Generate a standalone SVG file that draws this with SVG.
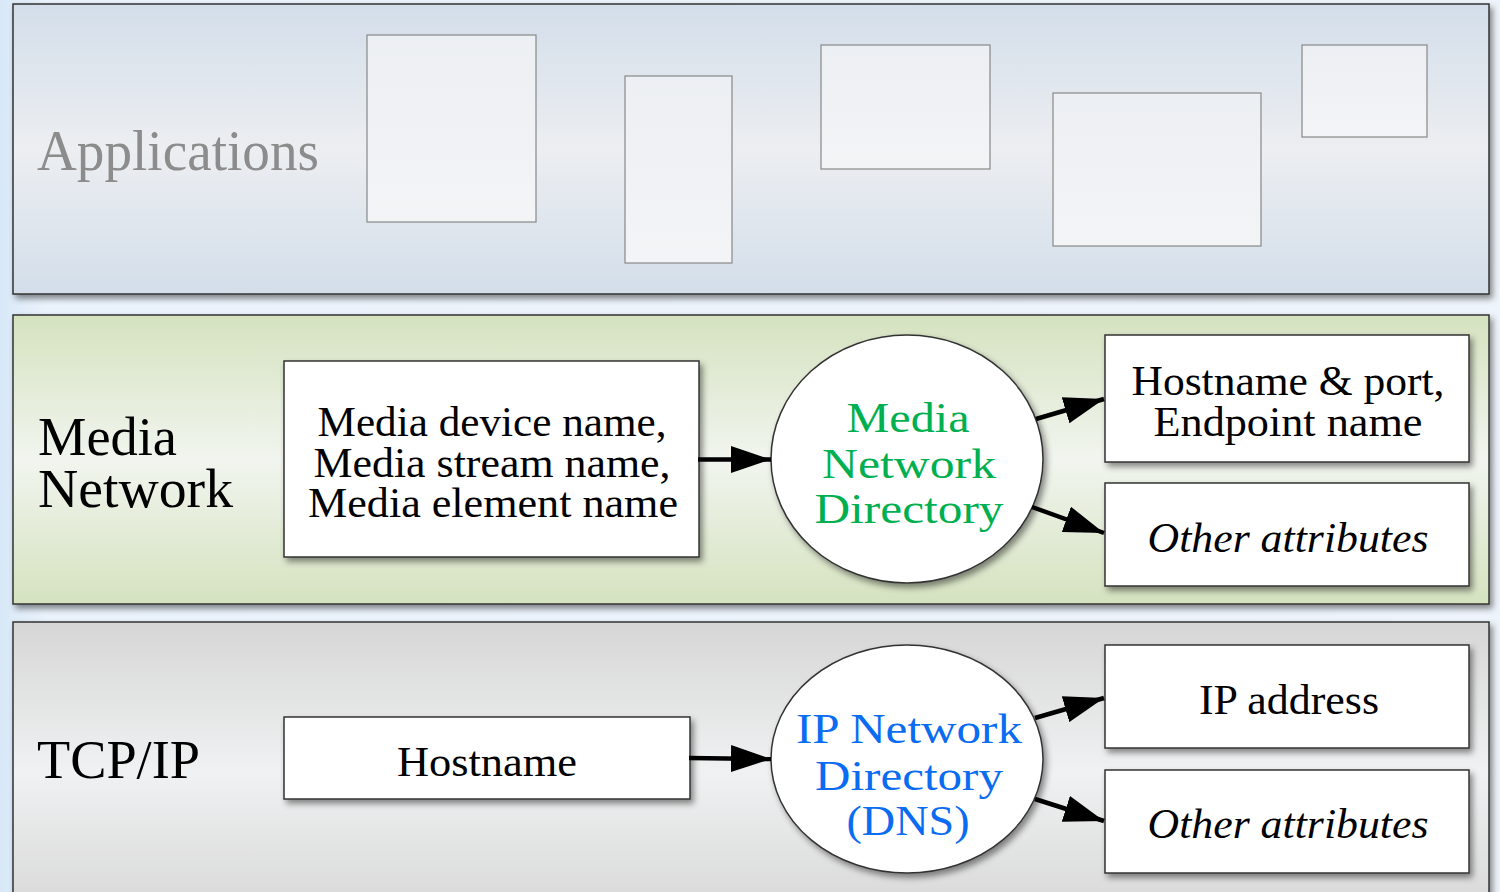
<svg xmlns="http://www.w3.org/2000/svg" width="1500" height="892" viewBox="0 0 1500 892">
<defs>
<linearGradient id="bgG" x1="0" y1="0" x2="1" y2="0">
<stop offset="0" stop-color="#d8e8f8"/><stop offset="0.03" stop-color="#eaf2fb"/><stop offset="1" stop-color="#eef4fb"/>
</linearGradient>
<linearGradient id="gBlue" x1="0" y1="0" x2="0" y2="1">
<stop offset="0" stop-color="#d3deea"/><stop offset="0.5" stop-color="#eceef1"/><stop offset="1" stop-color="#d3deea"/>
</linearGradient>
<linearGradient id="gGreen" x1="0" y1="0" x2="0" y2="1">
<stop offset="0" stop-color="#d5e2bf"/><stop offset="0.5" stop-color="#f1f5ef"/><stop offset="1" stop-color="#d5e2bf"/>
</linearGradient>
<linearGradient id="gGray" x1="0" y1="0" x2="0" y2="1">
<stop offset="0" stop-color="#d6d6d6"/><stop offset="0.5" stop-color="#f0f1f2"/><stop offset="1" stop-color="#d6d6d6"/>
</linearGradient>
<linearGradient id="gApp" x1="0" y1="0" x2="0" y2="1">
<stop offset="0" stop-color="#eceff3"/><stop offset="1" stop-color="#f3f4f6"/>
</linearGradient>
<filter id="sh" x="-5%" y="-5%" width="115%" height="120%">
<feDropShadow dx="3" dy="4" stdDeviation="3" flood-color="#000" flood-opacity="0.45"/>
</filter>
<marker id="ah" viewBox="0 0 10 10" refX="10" refY="5" markerWidth="8.9" markerHeight="6" markerUnits="strokeWidth" orient="auto" preserveAspectRatio="none">
<path d="M0,0 L10,5 L0,10 z" fill="#000"/>
</marker>
<style>
.panel{stroke:#333;stroke-width:1.5;filter:url(#sh)}
.app{fill:url(#gApp);stroke:#888;stroke-width:1.2}
.box{fill:#fff;stroke:#333;stroke-width:1.5;filter:url(#sh)}
.ell{fill:#fff;stroke:#333;stroke-width:1.5;filter:url(#sh)}
.t{font-family:"Liberation Serif","Times New Roman",serif;fill:#000}
.lbl{font-size:54px}
.bt{font-size:42px;text-anchor:middle}
.it{font-style:italic}
.conn{stroke:#000;stroke-width:4.5;fill:none;marker-end:url(#ah)}
</style>
</defs>
<rect x="0" y="0" width="1500" height="892" fill="url(#bgG)"/>

<g id="panel-applications">
<rect class="panel" x="13" y="4" width="1476" height="290" fill="url(#gBlue)"/>
<text class="t" x="37" y="170" font-size="58" style="fill:#8c8c8c" textLength="282" lengthAdjust="spacingAndGlyphs">Applications</text>
<rect class="app" x="367" y="35" width="169" height="187"/>
<rect class="app" x="625" y="76" width="107" height="187"/>
<rect class="app" x="821" y="45" width="169" height="124"/>
<rect class="app" x="1053" y="93" width="208" height="153"/>
<rect class="app" x="1302" y="45" width="125" height="92"/>
</g>

<g id="panel-media">
<rect class="panel" x="13" y="315" width="1476" height="289" fill="url(#gGreen)"/>
<text class="t lbl" x="38" y="455" textLength="139" lengthAdjust="spacingAndGlyphs">Media</text>
<text class="t lbl" x="38" y="507" textLength="195" lengthAdjust="spacingAndGlyphs">Network</text>
</g>

<g id="panel-tcpip">
<rect class="panel" x="13" y="622" width="1476" height="300" fill="url(#gGray)"/>
<text class="t lbl" x="37" y="778" textLength="163" lengthAdjust="spacingAndGlyphs">TCP/IP</text>
</g>

<g id="node-media-names">
<rect class="box" x="284" y="361" width="415" height="196"/>
<text class="t bt" x="492" y="436" textLength="349" lengthAdjust="spacingAndGlyphs">Media device name,</text>
<text class="t bt" x="492" y="477" textLength="357" lengthAdjust="spacingAndGlyphs">Media stream name,</text>
<text class="t bt" x="493" y="517" textLength="370" lengthAdjust="spacingAndGlyphs">Media element name</text>
</g>

<g id="node-mnd">
<ellipse class="ell" cx="907" cy="459" rx="136" ry="124"/>
<text class="t bt" x="908" y="432" style="fill:#00b050" textLength="123" lengthAdjust="spacingAndGlyphs">Media</text>
<text class="t bt" x="909" y="478" style="fill:#00b050" textLength="174" lengthAdjust="spacingAndGlyphs">Network</text>
<text class="t bt" x="909" y="523" style="fill:#00b050" textLength="189" lengthAdjust="spacingAndGlyphs">Directory</text>
</g>

<g id="node-hostport">
<rect class="box" x="1105" y="335" width="364" height="127"/>
<text class="t bt" x="1288" y="395" textLength="313" lengthAdjust="spacingAndGlyphs">Hostname &amp; port,</text>
<text class="t bt" x="1288" y="436" textLength="269" lengthAdjust="spacingAndGlyphs">Endpoint name</text>
</g>

<g id="node-media-other">
<rect class="box" x="1105" y="483" width="364" height="103"/>
<text class="t bt it" x="1288" y="552" textLength="281" lengthAdjust="spacingAndGlyphs">Other attributes</text>
</g>

<g id="node-hostname">
<rect class="box" x="284" y="717" width="406" height="82"/>
<text class="t bt" x="487" y="776" textLength="180" lengthAdjust="spacingAndGlyphs">Hostname</text>
</g>

<g id="node-dns">
<ellipse class="ell" cx="907" cy="759" rx="136" ry="114"/>
<text class="t bt" x="909" y="743" style="fill:#0a6cf0" textLength="226" lengthAdjust="spacingAndGlyphs">IP Network</text>
<text class="t bt" x="909" y="790" style="fill:#0a6cf0" textLength="188" lengthAdjust="spacingAndGlyphs">Directory</text>
<text class="t bt" x="908" y="835" style="fill:#0a6cf0" textLength="123" lengthAdjust="spacingAndGlyphs">(DNS)</text>
</g>

<g id="node-ipaddr">
<rect class="box" x="1105" y="645" width="364" height="103"/>
<text class="t bt" x="1289" y="714" textLength="180" lengthAdjust="spacingAndGlyphs">IP address</text>
</g>

<g id="node-ip-other">
<rect class="box" x="1105" y="770" width="364" height="103"/>
<text class="t bt it" x="1288" y="838" textLength="281" lengthAdjust="spacingAndGlyphs">Other attributes</text>
</g>

<g id="connectors">
<line class="conn" x1="698" y1="459.5" x2="771" y2="459.5"/>
<line class="conn" x1="1036" y1="419" x2="1104" y2="399"/>
<line class="conn" x1="1032" y1="507" x2="1104" y2="533"/>
<line class="conn" x1="689" y1="758" x2="771" y2="759"/>
<line class="conn" x1="1035" y1="718" x2="1104" y2="698"/>
<line class="conn" x1="1035" y1="799" x2="1104" y2="821"/>
</g>
</svg>
